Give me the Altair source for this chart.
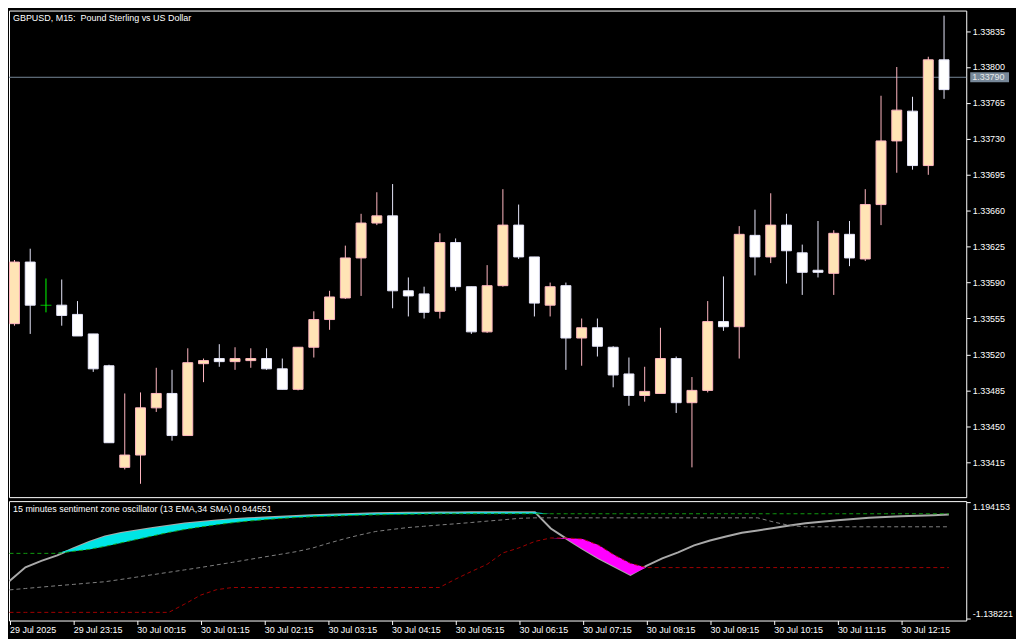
import altair as alt
import pandas as pd

# ---------------- data ----------------
symbol_title = "GBPUSD, M15:\u00a0 Pound Sterling vs US Dollar"
osc_name = "15 minutes sentiment zone oscillator (13 EMA,34 SMA)"

opens = [1.33550, 1.33610, 1.33568, 1.33568, 1.33559, 1.33540, 1.33509, 1.33410, 1.33422, 1.33468,
         1.33482, 1.33441, 1.33511, 1.33516, 1.33513, 1.33514, 1.33516, 1.33506, 1.33486, 1.33527,
         1.33554, 1.33575, 1.33614, 1.33648, 1.33655, 1.33582, 1.33579, 1.33562, 1.33629, 1.33586,
         1.33542, 1.33587, 1.33646, 1.33615, 1.33568, 1.33587, 1.33536, 1.33546, 1.33527, 1.33501,
         1.33480, 1.33482, 1.33516, 1.33473, 1.33485, 1.33552, 1.33547, 1.33636, 1.33615, 1.33646,
         1.33619, 1.33602, 1.33599, 1.33637, 1.33613, 1.33666, 1.33728, 1.33757, 1.33704, 1.33807]
highs = [1.33612, 1.33623, 1.33594, 1.33593, 1.33572, 1.33540, 1.33510, 1.33482, 1.33483, 1.33507,
         1.33505, 1.33526, 1.33516, 1.33530, 1.33527, 1.33526, 1.33526, 1.33516, 1.33527, 1.33562,
         1.33582, 1.33626, 1.33657, 1.33678, 1.33686, 1.33595, 1.33586, 1.33638, 1.33633, 1.33586,
         1.33607, 1.33681, 1.33666, 1.33615, 1.33590, 1.33590, 1.33555, 1.33555, 1.33528, 1.33517,
         1.33508, 1.33546, 1.33518, 1.33498, 1.33572, 1.33596, 1.33645, 1.33661, 1.33677, 1.33657,
         1.33627, 1.33650, 1.33641, 1.33650, 1.33681, 1.33772, 1.33800, 1.33771, 1.33810, 1.33850]
lows = [1.33548, 1.33540, 1.33561, 1.33548, 1.33538, 1.33503, 1.33434, 1.33408, 1.33394, 1.33464,
        1.33436, 1.33441, 1.33493, 1.33508, 1.33505, 1.33507, 1.33505, 1.33486, 1.33485, 1.33517,
        1.33544, 1.33574, 1.33577, 1.33646, 1.33565, 1.33557, 1.33555, 1.33555, 1.33582, 1.33540,
        1.33541, 1.33586, 1.33613, 1.33557, 1.33557, 1.33505, 1.33509, 1.33518, 1.33488, 1.33470,
        1.33474, 1.33482, 1.33463, 1.33410, 1.33483, 1.33543, 1.33516, 1.33597, 1.33609, 1.33589,
        1.33578, 1.33595, 1.33578, 1.33606, 1.33611, 1.33646, 1.33697, 1.33700, 1.33695, 1.33769]
closes = [1.33610, 1.33568, 1.33568, 1.33558, 1.33538, 1.33506, 1.33434, 1.33422, 1.33468, 1.33482,
          1.33441, 1.33512, 1.33514, 1.33513, 1.33516, 1.33516, 1.33506, 1.33486, 1.33527, 1.33554,
          1.33576, 1.33614, 1.33648, 1.33655, 1.33582, 1.33577, 1.33561, 1.33629, 1.33586, 1.33542,
          1.33587, 1.33646, 1.33615, 1.33570, 1.33586, 1.33536, 1.33546, 1.33528, 1.33500, 1.33480,
          1.33484, 1.33516, 1.33473, 1.33485, 1.33552, 1.33547, 1.33637, 1.33615, 1.33646, 1.33621,
          1.33600, 1.33600, 1.33638, 1.33614, 1.33666, 1.33728, 1.33758, 1.33704, 1.33807, 1.33778]

osc = [-0.3848, -0.1117, 0.0179, 0.1276, 0.2671, 0.3967, 0.5063, 0.5761, 0.6259, 0.6758,
       0.7196, 0.7655, 0.7954, 0.8253, 0.8512, 0.8691, 0.8851, 0.9010, 0.9150, 0.9289,
       0.9409, 0.9508, 0.9608, 0.9688, 0.9748, 0.9788, 0.9827, 0.9847, 0.9867, 0.9887,
       0.9907, 0.9907, 0.9927, 0.9927, 0.6658, 0.4565, 0.2571, 0.0677, -0.0977, -0.2652,
       -0.0818, 0.0677, 0.1873, 0.3269, 0.4266, 0.5063, 0.5821, 0.6259, 0.6758, 0.7256,
       0.7714, 0.8013, 0.8312, 0.8552, 0.8791, 0.8950, 0.9090, 0.9210, 0.9329, 0.944551]
upper = [0.1674, 0.1674, 0.1674, 0.1674, 0.2073, 0.2471, 0.3069, 0.3767, 0.4465, 0.5163,
         0.5860, 0.6458, 0.6957, 0.7395, 0.7794, 0.8133, 0.8412, 0.8651, 0.8851, 0.8990,
         0.9110, 0.9209, 0.9309, 0.9389, 0.9449, 0.9508, 0.9548, 0.9588, 0.9608, 0.9608,
         0.9608, 0.9608, 0.9608, 0.9608, 0.9608, 0.9608, 0.9608, 0.9608, 0.9608, 0.9608,
         0.9608, 0.9608, 0.9608, 0.9608, 0.9608, 0.9608, 0.9608, 0.9608, 0.9608, 0.9608,
         0.9608, 0.9608, 0.9608, 0.9608, 0.9608, 0.9608, 0.9608, 0.9608, 0.9608, 0.9608]
middle = [-0.5642, -0.5363, -0.5084, -0.4805, -0.4546, -0.4267, -0.4007, -0.3549, -0.3070, -0.2592,
          -0.2114, -0.1635, -0.1157, -0.0638, -0.0120, 0.0418, 0.0956, 0.1475, 0.2013, 0.2711,
          0.3668, 0.4565, 0.5362, 0.6060, 0.6458, 0.6837, 0.7096, 0.7355, 0.7595, 0.7854,
          0.8133, 0.8392, 0.8691, 0.8791, 0.8791, 0.8791, 0.8791, 0.8791, 0.8791, 0.8791,
          0.8791, 0.8791, 0.8791, 0.8791, 0.8791, 0.8791, 0.8791, 0.8791, 0.7954, 0.7256,
          0.6997, 0.6997, 0.6997, 0.6997, 0.6997, 0.6997, 0.6997, 0.6997, 0.6997, 0.6997]
lower = [-1.0147, -1.0147, -1.0147, -1.0147, -1.0147, -1.0147, -1.0147, -1.0147, -1.0147, -1.0147,
         -1.0147, -0.8493, -0.6699, -0.5602, -0.5164, -0.5164, -0.5164, -0.5164, -0.5164, -0.5164,
         -0.5164, -0.5164, -0.5164, -0.5164, -0.5164, -0.5164, -0.5164, -0.5164, -0.3509, -0.1974,
         -0.0519, 0.1774, 0.2771, 0.4066, 0.4764, 0.4764, 0.4565, 0.3329, 0.1336, -0.0319,
         -0.1176, -0.1176, -0.1176, -0.1176, -0.1176, -0.1176, -0.1176, -0.1176, -0.1176, -0.1176,
         -0.1176, -0.1176, -0.1176, -0.1176, -0.1176, -0.1176, -0.1176, -0.1176, -0.1176, -0.1176]

time_ticks = [0, 4, 8, 12, 16, 20, 24, 28, 32, 36, 40, 44, 48, 52, 56]
time_labels = ["29 Jul 2025", "29 Jul 23:15", "30 Jul 00:15", "30 Jul 01:15", "30 Jul 02:15",
               "30 Jul 03:15", "30 Jul 04:15", "30 Jul 05:15", "30 Jul 06:15", "30 Jul 07:15",
               "30 Jul 08:15", "30 Jul 09:15", "30 Jul 10:15", "30 Jul 11:15", "30 Jul 12:15"]
price_ticks = [1.33415, 1.33450, 1.33485, 1.33520, 1.33555, 1.33590, 1.33625,
               1.33660, 1.33695, 1.33730, 1.33765, 1.33800, 1.33835]
ask_price = 1.33790
ind_ticks = [-1.138221, 1.194153]
price_domain = [1.33381, 1.33855]
ind_domain = [-1.178112, 1.214088]
bar_domain = [-0.03125, 60.09375]

# ---------------- layout ----------------
W = 962
H_MAIN = 489
H_IND = 120
FONT = "Liberation Sans"

n = len(opens)
df = pd.DataFrame({"i": list(range(n)), "o": opens, "h": highs, "l": lows, "c": closes})
df["kind"] = ["doji" if o == c else ("bull" if c > o else "bear") for o, c in zip(opens, closes)]

ind = pd.DataFrame({"i": list(range(n)), "osc": osc, "up": upper, "mid": middle, "dn": lower})
ind["ctop"] = ind[["osc", "up"]].max(axis=1)
ind["mbot"] = ind[["osc", "dn"]].min(axis=1)

xs = alt.Scale(domain=bar_domain, nice=False, zero=False)
ys = alt.Scale(domain=price_domain, nice=False, zero=False)
yis = alt.Scale(domain=ind_domain, nice=False, zero=False)

yax = alt.Axis(orient="right", values=price_ticks, format=".5f", title=None,
               labelOverlap=False, labelFlush=False)
yiax = alt.Axis(orient="right", values=ind_ticks, title=None, labelOverlap=False, labelFlush=3,
                labelExpr="datum.value < 0 ? '-' + format(-datum.value, '.6f') : format(datum.value, '.6f')")
label_arr = "[" + ",".join("'" + s + "'" for s in time_labels) + "]"
xiax = alt.Axis(values=time_ticks, title=None, labelAlign="left", labelOverlap=False,
                labelFlush=False, labelPadding=1,
                labelExpr=label_arr + "[round(datum.value / 4)]")


def Xm():
    return alt.X("i:Q", scale=xs, axis=None)


def Yp(f):
    return alt.Y(f, type="quantitative", scale=ys, axis=yax)


def Xi():
    return alt.X("i:Q", scale=xs, axis=xiax)


def Yi(f):
    return alt.Y(f, type="quantitative", scale=yis, axis=yiax)


base = alt.Chart(df)
wicks = base.mark_rule(strokeWidth=1, clip=True).encode(
    x=Xm(), y=Yp("l"), y2="h",
    color=alt.Color("kind:N", legend=None,
                    scale=alt.Scale(domain=["bull", "bear", "doji"],
                                    range=["#FFB6C1", "#E6E6FA", "#00FF00"])))
bodies = base.transform_filter("datum.kind != 'doji'").mark_bar(
    size=10, strokeWidth=1, clip=True).encode(
    x=Xm(), y=Yp("o"), y2="c",
    fill=alt.Fill("kind:N", legend=None,
                  scale=alt.Scale(domain=["bull", "bear"], range=["#FFE4B5", "#FFFFFF"])),
    stroke=alt.Stroke("kind:N", legend=None,
                      scale=alt.Scale(domain=["bull", "bear"], range=["#FFB6C1", "#E6E6FA"])))
doji = base.transform_filter("datum.kind == 'doji'").mark_tick(
    orient="horizontal", size=11, thickness=1, color="#00FF00", clip=True).encode(
    x=Xm(), y=Yp("o"))

askdf = pd.DataFrame({"p": [ask_price], "t": [f"{ask_price:.5f}"]})
ask_line = alt.Chart(askdf).mark_rule(color="#778899", strokeWidth=1).encode(y=Yp("p"))
ask_box = alt.Chart(askdf).mark_rect(color="#778899", yOffset=-5, y2Offset=5).encode(
    x=alt.value(W + 4), x2=alt.value(W + 43), y=Yp("p"), y2="p")
ask_text = alt.Chart(askdf).mark_text(align="left", baseline="middle", font=FONT, fontSize=9,
                                      color="#E8E8E8").encode(
    x=alt.value(W + 6), y=Yp("p"), text="t:N")
title_layer = alt.Chart(pd.DataFrame({"t": [symbol_title]})).mark_text(
    align="left", baseline="top", font=FONT, fontSize=9, color="#FFFFFF").encode(
    x=alt.value(4), y=alt.value(3), text="t:N")

main = alt.layer(ask_line, wicks, bodies, doji, ask_box, ask_text, title_layer).properties(
    width=W, height=H_MAIN)

ib = alt.Chart(ind)
osc_line = ib.mark_line(color="#A9A9A9", strokeWidth=2, clip=True).encode(x=Xi(), y=Yi("osc"))
cyan = ib.mark_area(color="#00E5E5", opacity=1, clip=True).encode(x=Xi(), y=Yi("ctop"), y2="up")
magenta = ib.mark_area(color="#FF00FF", opacity=1, clip=True).encode(x=Xi(), y=Yi("dn"), y2="mbot")
mid_line = ib.mark_line(color="#808080", strokeWidth=1, strokeDash=[4, 3], clip=True).encode(
    x=Xi(), y=Yi("mid"))
dn_line = ib.mark_line(color="#A00000", strokeWidth=1, strokeDash=[4, 3], clip=True).encode(
    x=Xi(), y=Yi("dn"))
up_line = ib.mark_line(color="#109A10", strokeWidth=1, strokeDash=[4, 3], clip=True).encode(
    x=Xi(), y=Yi("up"))
ind_title = alt.Chart(pd.DataFrame({"t": [f"{osc_name} {osc[-1]:.6f}"]})).mark_text(
    align="left", baseline="top", font=FONT, fontSize=9, color="#FFFFFF").encode(
    x=alt.value(4), y=alt.value(4), text="t:N")

indc = alt.layer(osc_line, cyan, magenta, mid_line, dn_line, up_line, ind_title).properties(
    width=W, height=H_IND)

chart = alt.vconcat(main, indc, spacing=2).properties(
    background="#000000",
    padding={"left": 0, "top": 0, "right": 2, "bottom": 2},
).configure_view(
    stroke="#FFFFFF", strokeWidth=1
).configure_axis(
    labelColor="#FFFFFF", tickColor="#FFFFFF", domain=False, grid=False,
    labelFont=FONT, labelFontSize=9, tickSize=4, labelPadding=2
)

chart.save("out.html", embed_options={"renderer": "svg", "actions": False})
